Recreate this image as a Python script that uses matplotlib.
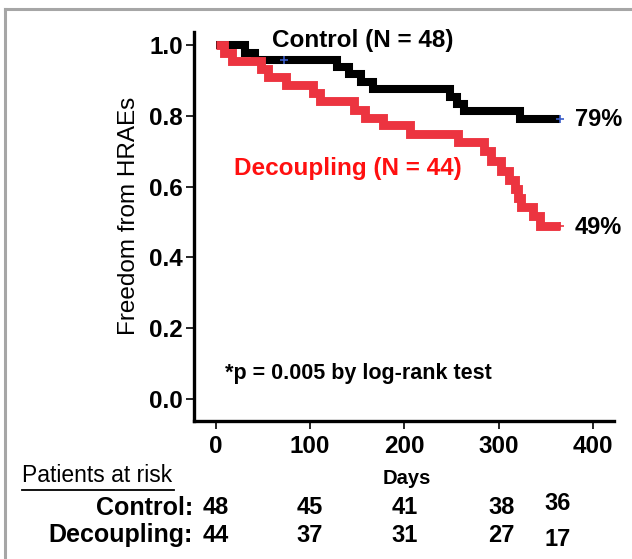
import matplotlib
matplotlib.use("Agg")
import matplotlib.pyplot as plt
from matplotlib.lines import Line2D
from matplotlib.transforms import blended_transform_factory

plt.rcParams['font.family'] = ['Liberation Sans', 'DejaVu Sans']

# ---- data ----
control_days = [0, 31, 42, 129, 141, 154, 167, 248, 256, 263, 322, 365]
control_surv = [1.0, 0.979, 0.958, 0.9375, 0.917, 0.896, 0.875, 0.854, 0.833, 0.8125, 0.79, 0.79]

decoupling_days = [0, 9, 17, 48, 55, 74, 103, 111, 146, 158, 177, 206, 257,
                   284, 292, 302, 311, 317, 320, 323, 336, 344, 365]
decoupling_surv = [1.0, 0.977, 0.955, 0.932, 0.909, 0.886, 0.864, 0.841, 0.818,
                   0.795, 0.773, 0.75, 0.727, 0.70, 0.672, 0.645, 0.619, 0.593,
                   0.567, 0.543, 0.518, 0.49, 0.49]

control_censor_days = [72, 365]
control_censor_surv = [0.958, 0.79]

xticks = [0, 100, 200, 300, 400]
yticks = [0.0, 0.2, 0.4, 0.6, 0.8, 1.0]

risk_days = [0, 100, 200, 303, 362]
risk_control = [48, 45, 41, 38, 36]
risk_decoupling = [44, 37, 31, 27, 17]

W, H = 632, 559
fig = plt.figure(figsize=(W / 100, H / 100), dpi=100)
fig.patch.set_facecolor('white')

def fx(x):
    return x / W

def fy(y):
    return 1 - y / H

# axes placement (pixel-derived)
ax = fig.add_axes([fx(194), fy(421), fx(614) - fx(194), fy(32) - fy(421)])
ax.set_xlim(-23, 422)
ax.set_ylim(-0.062, 1.037)

black = '#000000'
red = '#ec3440'

ax.plot(control_days, control_surv, drawstyle='steps-post', color=black,
        lw=5.8, solid_joinstyle='miter', solid_capstyle='butt', zorder=3)
ax.plot(decoupling_days, decoupling_surv, drawstyle='steps-post', color=red,
        lw=6.4, solid_joinstyle='miter', solid_capstyle='butt', zorder=4)
ax.plot(control_censor_days, control_censor_surv, linestyle='none', marker='+',
        ms=6, mew=1.2, color='#3a5cc8', zorder=5)
ax.plot([decoupling_days[-1]], [decoupling_surv[-1]], linestyle='none', marker='+',
        ms=6, mew=1.2, color=red, zorder=5)

for s in ['top', 'right']:
    ax.spines[s].set_visible(False)
for s in ['left', 'bottom']:
    ax.spines[s].set_linewidth(2.4)

ax.set_xticks(xticks)
ax.set_yticks(yticks)
ax.set_xticklabels([str(t) for t in xticks])
ax.set_yticklabels([f'{t:.1f}' for t in yticks])
ax.tick_params(axis='both', direction='out', width=1.2, length=6, labelsize=17.5)
ax.tick_params(axis='x', pad=4)
ax.tick_params(axis='y', pad=2)
for lab in ax.get_xticklabels() + ax.get_yticklabels():
    lab.set_fontweight('bold')

# y label
fig.text(fx(129), fy(216), 'Freedom from HRAEs', rotation=90, ha='center',
         va='center', fontsize=17.5)

# curve labels
fig.text(fx(363), fy(40), 'Control (N = 48)', ha='center', va='center',
         fontsize=17.5, fontweight='bold', color='black')
fig.text(fx(348), fy(168), 'Decoupling (N = 44)', ha='center', va='center',
         fontsize=17.5, fontweight='bold', color='#ff1010')
fig.text(fx(575), fy(120), '79%', ha='left', va='center', fontsize=17,
         fontweight='bold')
fig.text(fx(575), fy(228), '49%', ha='left', va='center', fontsize=17,
         fontweight='bold')
fig.text(fx(225), fy(373), '*p = 0.005 by log-rank test', ha='left',
         va='center', fontsize=15.5, fontweight='bold')

# x label
fig.text(fx(407), fy(478), 'Days', ha='center', va='center', fontsize=14.5,
         fontweight='bold')

# at-risk table
fig.text(fx(22), fy(476), 'Patients at risk', ha='left', va='center',
         fontsize=16.5)
fig.add_artist(Line2D([fx(22), fx(174)], [fy(490), fy(490)], color='black',
                      lw=1.3, transform=fig.transFigure))
fig.text(fx(193), fy(508), 'Control:', ha='right', va='center', fontsize=18,
         fontweight='bold')
fig.text(fx(193), fy(535), 'Decoupling:', ha='right', va='center',
         fontsize=18, fontweight='bold')
trans = blended_transform_factory(ax.transData, fig.transFigure)
for i, (d, c, dc) in enumerate(zip(risk_days, risk_control, risk_decoupling)):
    yc = 504 if i == len(risk_days) - 1 else 508
    yd = 539 if i == len(risk_days) - 1 else 535
    ax.text(d, fy(yc), str(c), transform=trans, ha='center', va='center',
            fontsize=17, fontweight='bold', clip_on=False)
    ax.text(d, fy(yd), str(dc), transform=trans, ha='center', va='center',
            fontsize=17, fontweight='bold', clip_on=False)

# grey slide frame
frame_col = '#a6a6a6'
fig.add_artist(Line2D([fx(5), fx(W + 5)], [fy(9), fy(9)], color=frame_col,
                      lw=2.2, transform=fig.transFigure))
fig.add_artist(Line2D([fx(5), fx(5)], [fy(9), fy(H + 5)], color=frame_col,
                      lw=2.2, transform=fig.transFigure))

fig.savefig('out.png', dpi=100, facecolor='white')
